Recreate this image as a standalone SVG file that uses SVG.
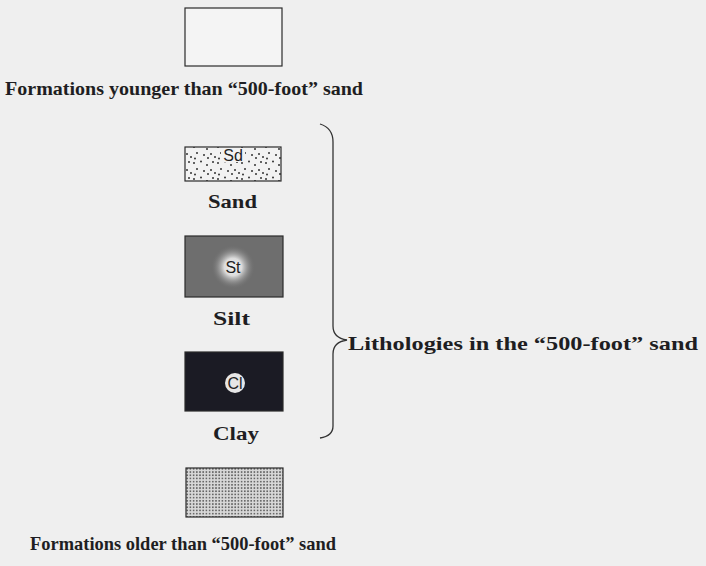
<svg xmlns="http://www.w3.org/2000/svg" width="706" height="566" viewBox="0 0 706 566">
<style>
.lbl{font-family:"Liberation Serif","DejaVu Serif",serif;font-weight:bold;font-size:19.5px;fill:#1e1e22}
.box{stroke:#2a2a2a;stroke-width:1.2}
.sym{font-family:"Liberation Sans","DejaVu Sans",sans-serif;font-size:16px;fill:#222;text-anchor:middle}
</style>
<defs>
<pattern id="sandPat" width="24" height="16" patternUnits="userSpaceOnUse">
<rect width="24" height="16" fill="#f2f2f2"/>
<circle cx="2" cy="3" r="1" fill="#333"/>
<circle cx="9" cy="1.5" r="1" fill="#333"/>
<circle cx="15" cy="5" r="1" fill="#333"/>
<circle cx="21" cy="2" r="1" fill="#333"/>
<circle cx="5" cy="9" r="1" fill="#333"/>
<circle cx="12" cy="11" r="1" fill="#333"/>
<circle cx="19" cy="10" r="1" fill="#333"/>
<circle cx="3" cy="14.5" r="1" fill="#333"/>
<circle cx="16" cy="14" r="1" fill="#333"/>
<circle cx="23" cy="13" r="1" fill="#333"/>
</pattern>
<pattern id="oldPat" width="3.2" height="3.2" patternUnits="userSpaceOnUse">
<rect width="3.2" height="3.2" fill="#d8d8d8"/>
<circle cx="1.6" cy="1.6" r="0.9" fill="#555"/>
</pattern>
<radialGradient id="siltGlow" cx="0.5" cy="0.5" r="0.5">
<stop offset="0" stop-color="#f4f4f4"/>
<stop offset="0.4" stop-color="#dcdcdc"/>
<stop offset="1" stop-color="#6e6e6e" stop-opacity="0"/>
</radialGradient>
</defs>
<rect width="706" height="566" fill="#efefef"/>

<g id="younger">
<rect class="box" x="185" y="8" width="97" height="58" fill="#f4f4f4"/>
<text class="lbl" x="5" y="95" textLength="358" lengthAdjust="spacingAndGlyphs">Formations younger than “500-foot” sand</text>
</g>

<g id="sand">
<rect class="box" x="185" y="147" width="96" height="34" fill="url(#sandPat)"/>
<rect x="221" y="148" width="24" height="14" fill="#f2f2f2"/>
<text class="sym" x="233" y="161">Sd</text>
<text class="lbl" x="208" y="208" textLength="49" lengthAdjust="spacingAndGlyphs">Sand</text>
</g>

<g id="silt">
<rect class="box" x="185" y="236" width="98" height="61" fill="#6e6e6e"/>
<circle cx="233" cy="267" r="22" fill="url(#siltGlow)"/>
<text class="sym" x="233" y="273">St</text>
<text class="lbl" x="213" y="325" textLength="37" lengthAdjust="spacingAndGlyphs">Silt</text>
</g>

<g id="clay">
<rect class="box" x="185" y="352" width="98" height="59" fill="#1b1b24"/>
<circle cx="235" cy="383" r="10" fill="#e6e6e6"/>
<text class="sym" x="235" y="388.5" font-size="14">Cl</text>
<text class="lbl" x="213" y="440" textLength="46" lengthAdjust="spacingAndGlyphs">Clay</text>
</g>

<g id="older">
<rect class="box" x="186" y="468" width="97" height="49" fill="url(#oldPat)"/>
<text class="lbl" x="30" y="550" textLength="306" lengthAdjust="spacingAndGlyphs">Formations older than “500-foot” sand</text>
</g>

<g id="connectors">
<path d="M320,124 Q333,128 333,142 L333,326 Q333,338 347,340 Q333,342 333,354 L333,426 Q333,436 320,438" fill="none" stroke="#333" stroke-width="1.3"/>
</g>

<g id="lithologies">
<text class="lbl" x="348" y="350" textLength="350" lengthAdjust="spacingAndGlyphs">Lithologies in the “500-foot” sand</text>
</g>
</svg>
